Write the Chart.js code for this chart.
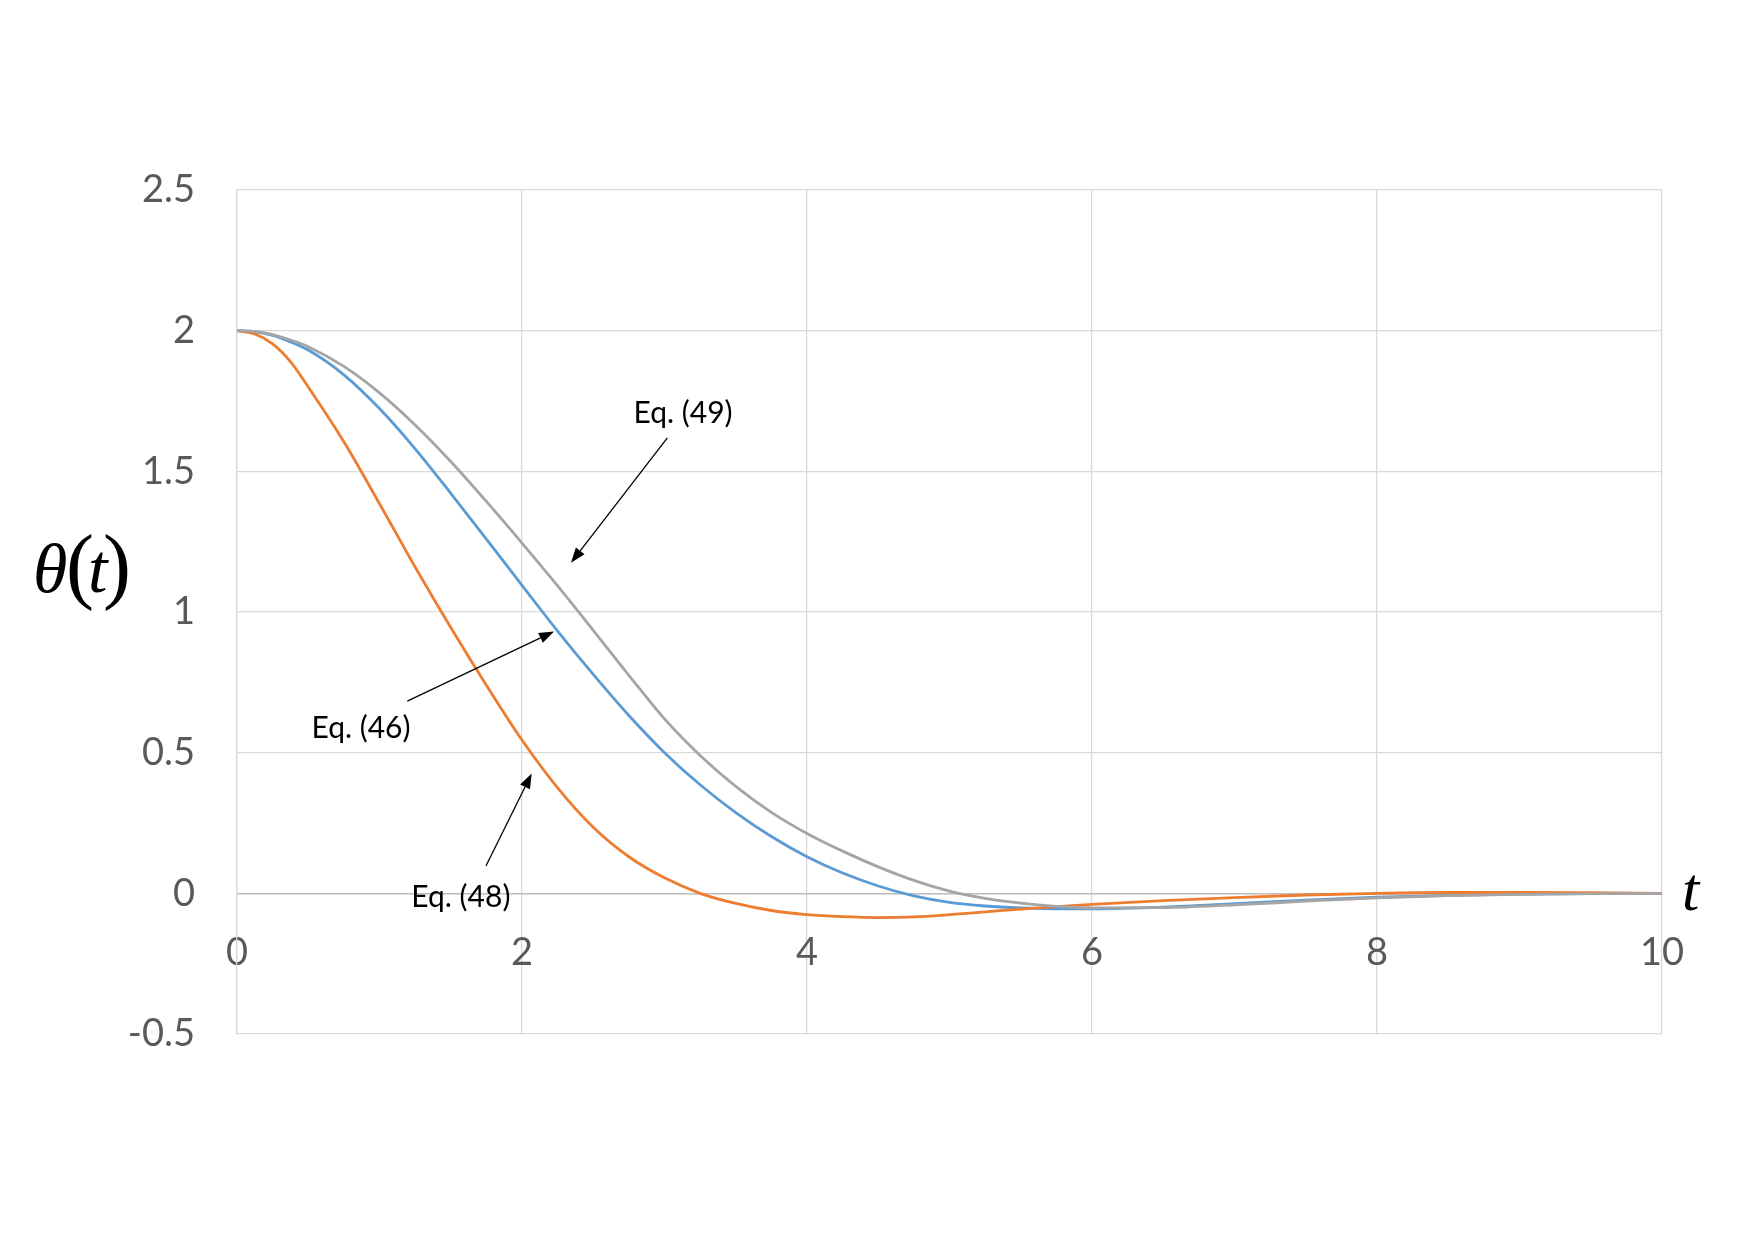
<!DOCTYPE html>
<html>
<head>
<meta charset="utf-8">
<script src="https://cdn.jsdelivr.net/npm/chart.js@4.4.1/dist/chart.umd.min.js"></script>
<style>
  html, body { margin: 0; background: #fff; }
  canvas { display: block; }
</style>
</head>
<body>
<canvas id="chart" width="1755" height="1241"></canvas>
<script>
// time samples
const tValues = [0, 0.125, 0.25, 0.375, 0.5, 0.75, 1, 1.25, 1.5, 1.75, 2, 2.25, 2.5, 2.75, 3, 3.25, 3.5, 3.75,
  4, 4.25, 4.5, 4.75, 5, 5.25, 5.5, 5.75, 6, 6.5, 7, 7.5, 8, 8.5, 9, 9.5, 10];

const eq46 = [2.0, 1.996, 1.983, 1.96, 1.931, 1.843, 1.723, 1.58, 1.422, 1.259, 1.095, 0.932, 0.778, 0.632, 0.5, 0.386, 0.287, 0.202,
  0.13, 0.072, 0.026, -0.009, -0.032, -0.045, -0.052, -0.055, -0.055, -0.049, -0.037, -0.024, -0.014, -0.007, -0.003, -0.001, 0.0];

const eq48 = [2.0, 1.988, 1.953, 1.89, 1.8, 1.605, 1.385, 1.16, 0.945, 0.74, 0.545, 0.375, 0.235, 0.13, 0.055, 0.0, -0.036, -0.061,
  -0.076, -0.083, -0.086, -0.084, -0.076, -0.066, -0.056, -0.047, -0.039, -0.026, -0.015, -0.006, 0.0, 0.003, 0.003, 0.002, 0.0];

const eq49 = [2.0, 1.997, 1.986, 1.967, 1.943, 1.873, 1.779, 1.665, 1.535, 1.393, 1.245, 1.093, 0.935, 0.775, 0.62, 0.49, 0.38, 0.288,
  0.213, 0.15, 0.094, 0.046, 0.008, -0.018, -0.035, -0.046, -0.052, -0.051, -0.041, -0.028, -0.016, -0.008, -0.004, -0.001, 0.0];

const xTicks = [0, 2, 4, 6, 8, 10];
const yTicks = [-0.5, 0, 0.5, 1, 1.5, 2, 2.5];

// callout labels, in data units: text spot, arrow tail, arrow tip
const callouts = [
  { text: "Eq. (49)", at: [3.13, 1.705], from: [3.02, 1.619], to: [2.344, 1.175] },
  { text: "Eq. (46)", at: [0.87, 0.586], from: [1.195, 0.683], to: [2.225, 0.931] },
  { text: "Eq. (48)", at: [1.571, -0.013], from: [1.747, 0.097], to: [2.068, 0.426] },
];

const toPoints = (ys) => tValues.map((t, i) => ({ x: t, y: ys[i] }));

const GRID = "#d9d9d9";
const TICK_COLOR = "#595959";
const TICK_FONT = { family: "Lato", size: 38 };

const calloutPlugin = {
  id: "callouts",
  afterDatasetsDraw(chart) {
    const { ctx, scales } = chart;
    const px = (p) => [scales.x.getPixelForValue(p[0]), scales.y.getPixelForValue(p[1])];
    ctx.save();
    ctx.strokeStyle = "#000";
    ctx.fillStyle = "#000";
    ctx.lineWidth = 1.3;
    callouts.forEach((c) => {
      const [x1, y1] = px(c.from);
      const [x2, y2] = px(c.to);
      const ang = Math.atan2(y2 - y1, x2 - x1);
      const head = 15, half = 5.5;
      const bx = x2 - head * Math.cos(ang), by = y2 - head * Math.sin(ang);
      ctx.beginPath();
      ctx.moveTo(x1, y1);
      ctx.lineTo(bx, by);
      ctx.stroke();
      ctx.beginPath();
      ctx.moveTo(x2, y2);
      ctx.lineTo(bx + half * Math.sin(ang), by - half * Math.cos(ang));
      ctx.lineTo(bx - half * Math.sin(ang), by + half * Math.cos(ang));
      ctx.closePath();
      ctx.fill();
      const [tx, ty] = px(c.at);
      ctx.font = "30px Lato";
      ctx.textAlign = "center";
      ctx.textBaseline = "middle";
      ctx.fillText(c.text, tx, ty);
    });

    // axis symbols
    const area = chart.chartArea;
    ctx.textAlign = "left";
    ctx.textBaseline = "alphabetic";
    const base = scales.y.getPixelForValue(1.15) + 22;
    const left = area.left - 204;
    ctx.font = "italic 70px 'Liberation Serif'";
    ctx.fillText("θ", left, base);
    ctx.font = "84px 'Liberation Serif'";
    ctx.fillText("(", left + 33, base + 1);
    ctx.font = "italic 70px 'Liberation Serif'";
    ctx.fillText("t", left + 55, base);
    ctx.font = "84px 'Liberation Serif'";
    ctx.fillText(")", left + 70, base + 1);

    ctx.font = "italic 62px 'Liberation Serif'";
    ctx.fillText("t", area.right + 20, scales.y.getPixelForValue(0) + 17);
    ctx.restore();
  },
};

new Chart(document.getElementById("chart"), {
  type: "line",
  data: {
    datasets: [
      { label: "Eq. (46)", data: toPoints(eq46), borderColor: "#5B9BD5", order: 2 },
      { label: "Eq. (48)", data: toPoints(eq48), borderColor: "#ED7D31", order: 1 },
      { label: "Eq. (49)", data: toPoints(eq49), borderColor: "#A5A5A5", order: 0 },
    ],
  },
  options: {
    responsive: false,
    animation: false,
    devicePixelRatio: 1,
    layout: { padding: { top: 190, right: 93, bottom: 207, left: 0 } },
    elements: {
      line: { borderWidth: 2.8, cubicInterpolationMode: "monotone", fill: false },
      point: { radius: 0 },
    },
    plugins: { legend: { display: false }, tooltip: { enabled: false } },
    scales: {
      x: {
        type: "linear",
        axis: "x",
        position: { y: 0 },
        min: 0,
        max: 10,
        afterBuildTicks: (s) => { s.ticks = xTicks.map((v) => ({ value: v })); },
        afterFit: (s) => { s.height = 0; },
        grid: { color: GRID, lineWidth: 1.3, drawTicks: false },
        border: { color: "#bfbfbf", width: 1.6 },
        ticks: { color: TICK_COLOR, font: TICK_FONT, padding: 37, maxRotation: 0, callback: (v) => String(v) },
      },
      y: {
        type: "linear",
        position: "left",
        min: -0.5,
        max: 2.5,
        afterBuildTicks: (s) => { s.ticks = yTicks.map((v) => ({ value: v })); },
        afterFit: (s) => { s.width = 237; },
        grid: { color: GRID, lineWidth: 1.3, drawTicks: false },
        border: { color: GRID, width: 1.3 },
        ticks: { color: TICK_COLOR, font: TICK_FONT, padding: 42, callback: (v) => String(v) },
      },
    },
  },
  plugins: [calloutPlugin],
});
</script>
</body>
</html>
